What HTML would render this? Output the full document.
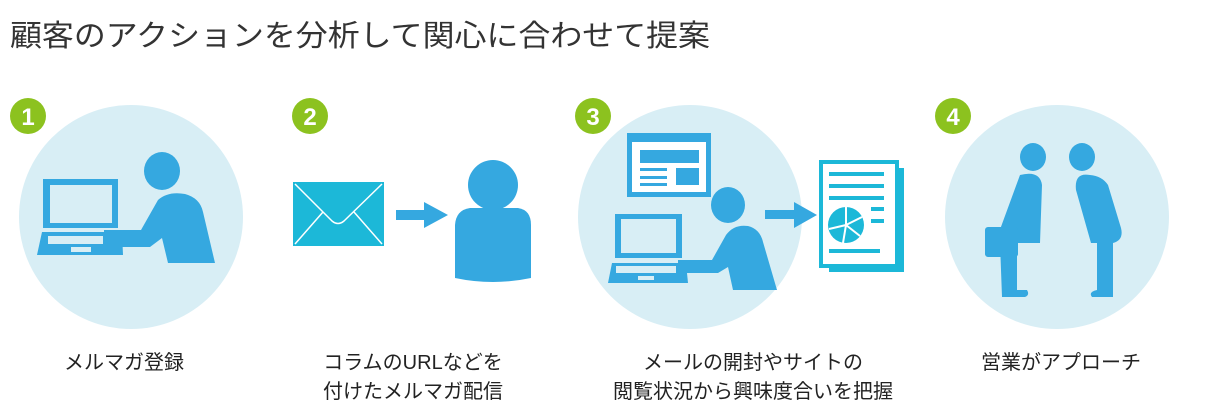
<!DOCTYPE html>
<html><head><meta charset="utf-8"><style>
html,body{margin:0;padding:0;background:#fff;}
svg{display:block;}
text{font-family:"Liberation Sans","Noto Sans CJK JP",sans-serif;}
</style></head><body>
<svg width="1223" height="419" viewBox="0 0 1223 419" xmlns="http://www.w3.org/2000/svg">
<text x="10" y="46" font-size="30" fill="#333" textLength="700" lengthAdjust="spacingAndGlyphs">顧客のアクションを分析して関心に合わせて提案</text>

<!-- circles -->
<ellipse cx="131" cy="217" rx="112" ry="112" fill="#d8eef5"/>
<ellipse cx="690" cy="217" rx="112" ry="112" fill="#d8eef5"/>
<ellipse cx="1057" cy="217" rx="112" ry="112" fill="#d8eef5"/>

<!-- badges -->
<g font-size="24" font-weight="bold" fill="#fff" text-anchor="middle">
<circle cx="28" cy="116" r="18" fill="#8cc21f"/><text x="28" y="125">1</text>
<circle cx="310" cy="116" r="18" fill="#8cc21f"/><text x="310" y="125">2</text>
<circle cx="593" cy="116" r="18" fill="#8cc21f"/><text x="593" y="125">3</text>
<circle cx="953" cy="116" r="18" fill="#8cc21f"/><text x="953" y="125">4</text>
</g>

<!-- icon 1 -->
<g fill="#35a8e0">
<rect x="43" y="179" width="75" height="49"/>
<rect x="50" y="185" width="62" height="38" fill="#d8eef5"/>
<polygon points="42,232 122,232 123,255 37,255"/>
<rect x="48" y="236" width="55" height="8" fill="#d8eef5"/>
<rect x="71" y="247" width="20" height="5" fill="#d8eef5"/>
<ellipse cx="162" cy="171" rx="18" ry="19"/>
<path d="M104,230 L141,230 L158,200 Q168,191 185,194 Q200,198 203,212 L215,263 L168,263 L162,238 L150,247 L104,247 Z"/>
</g>

<!-- icon 2 -->
<rect x="293" y="182" width="91" height="64" fill="#1cb8d8"/>
<g stroke="#fff" stroke-width="1.5" fill="none">
<path d="M295,184 L332,221 Q338,226 344,221 L382,184"/>
<path d="M295,244 L323,212 M382,244 L354,212"/>
</g>
<g fill="#35a8e0">
<rect x="396" y="210" width="30" height="10"/>
<polygon points="424,202 448,215 424,228"/>
<ellipse cx="493" cy="185" rx="25" ry="25"/>
<path d="M470,208 L518,208 Q531,210 531,225 L531,278 Q493,286 455,278 L455,225 Q456,210 470,208 Z"/>
</g>

<!-- icon 3 -->
<g fill="#35a8e0">
<rect x="627" y="133" width="84" height="64"/>
<rect x="632" y="142" width="74" height="50" fill="#fff"/>
<rect x="640" y="150" width="59" height="13"/>
<rect x="640" y="168" width="27" height="3"/>
<rect x="640" y="176" width="27" height="3"/>
<rect x="640" y="183" width="27" height="3"/>
<rect x="676" y="168" width="23" height="17"/>
<rect x="615" y="214" width="67" height="44"/>
<rect x="621" y="219" width="55" height="34" fill="#d8eef5"/>
<polygon points="612,263 686,263 688,283 608,283"/>
<rect x="616" y="266" width="60" height="7" fill="#d8eef5"/>
<rect x="638" y="276" width="16" height="4" fill="#d8eef5"/>
<ellipse cx="728" cy="205" rx="17" ry="18"/>
<path d="M678,260 L712,260 L726,235 Q734,224 748,226 Q760,229 763,242 L777,290 L733,290 L728,267 L718,273 L678,273 Z"/>
<rect x="765" y="210" width="30" height="9"/>
<polygon points="794,202 817,215 794,228"/>
</g>
<g fill="#1cb8d8">
<rect x="829" y="168" width="75" height="104"/>
<rect x="819" y="160" width="76" height="104" fill="#fff"/>
<rect x="819" y="160" width="76" height="104" fill="none" stroke="#1cb8d8" stroke-width="4" transform="translate(2,2) scale(1)" style="transform-box:fill-box"/>
<rect x="829" y="172" width="55" height="4"/>
<rect x="829" y="184" width="55" height="4"/>
<rect x="829" y="196" width="55" height="4"/>
<circle cx="846" cy="225" r="18"/>
<path d="M846,225 L846,206 M846,225 L862,217 M846,225 L860,236 M846,225 L843,243 M846,225 L829,229" stroke="#fff" stroke-width="2"/>
<rect x="871" y="207" width="13" height="4"/>
<rect x="871" y="219" width="13" height="4"/>
<rect x="829" y="249" width="51" height="4"/>
</g>

<!-- icon 4 -->
<g fill="#35a8e0">
<ellipse cx="1033" cy="157" rx="13" ry="14"/>
<path d="M1020,175 Q1040,170 1042,185 L1040,243 L1017,243 L1017,290 L1027,290 Q1030,295 1025,297 L1002,297 L1000,243 L998,235 Z"/>
<rect x="985" y="227" width="33" height="30" rx="3"/>
<ellipse cx="1082" cy="157" rx="13" ry="14"/>
<path d="M1090,175 Q1074,172 1076,190 L1091,243 L1097,243 L1097,290 Q1088,292 1092,297 L1113,297 L1113,243 Q1124,240 1121,228 L1108,185 Q1102,176 1090,175 Z"/>
</g>

<!-- labels -->
<g font-size="20" fill="#222" text-anchor="middle">
<text x="124" y="369">メルマガ登録</text>
<text x="413" y="369">コラムのURLなどを</text>
<text x="413" y="398">付けたメルマガ配信</text>
<text x="753" y="369">メールの開封やサイトの</text>
<text x="753" y="398">閲覧状況から興味度合いを把握</text>
<text x="1061" y="369">営業がアプローチ</text>
</g>
</svg>
</body></html>
